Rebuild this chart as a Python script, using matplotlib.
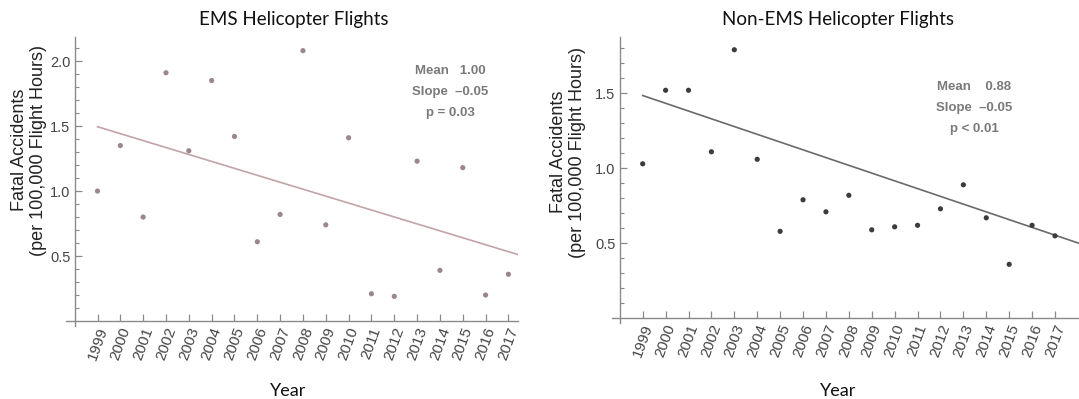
import matplotlib
matplotlib.use("Agg")
import matplotlib.pyplot as plt
import numpy as np

# ---------------- data ----------------
years = list(range(1999, 2018))
ems_rate = [1.00, 1.35, 0.80, 1.91, 1.31, 1.85, 1.42, 0.61, 0.82, 2.08,
            0.74, 1.41, 0.21, 0.19, 1.23, 0.39, 1.18, 0.20, 0.36]
non_ems_rate = [1.03, 1.52, 1.52, 1.11, 1.79, 1.06, 0.58, 0.79, 0.71, 0.82,
                0.59, 0.61, 0.62, 0.73, 0.89, 0.67, 0.36, 0.62, 0.55]
titles = ["EMS Helicopter Flights", "Non-EMS Helicopter Flights"]
trend_at_1999 = [1.495, 1.485]
trend_slope = [-0.0534, -0.0517]
stat_lines = [["Mean   1.00", "Slope  \u20130.05", "p = 0.03"],
              ["Mean    0.88", "Slope  \u20130.05", "p < 0.01"]]
ytick_vals = [[0.5, 1.0, 1.5, 2.0], [0.5, 1.0, 1.5]]
ylabel = "Fatal Accidents\n(per 100,000 Flight Hours)"
xlabel = "Year"

W, H = 1079, 399
fig = plt.figure(figsize=(W / 100, H / 100), dpi=100)

def frac_box(x0, y0, x1, y1):
    return [x0 / W, 1 - y1 / H, (x1 - x0) / W, (y1 - y0) / H]

panels = [
    dict(box=(66, 37, 518, 326), xlim=(1997.62, 2017.42), ylim=(-0.038, 2.185),
         pt="#9c868c", ln="#c2a4a6", data=ems_rate,
         title_xy=(294, 20), ylab_x=(29, 150), xlab_xy=(288, 391),
         stat_xy=(450, 71)),
    dict(box=(612, 37, 1085, 323), xlim=(1997.66, 2018.31), ylim=(-0.031, 1.875),
         pt="#3c3c3c", ln="#6a6a6a", data=non_ems_rate,
         title_xy=(838, 20), ylab_x=(568, 152), xlab_xy=(838, 391),
         stat_xy=(974, 87)),
]

axis_col = "#8a8a8a"
for i, p in enumerate(panels):
    ax = fig.add_axes(frac_box(*p["box"]))
    ax.set_xlim(*p["xlim"])
    ax.set_ylim(*p["ylim"])
    ax.scatter(years, p["data"], s=14, color=p["pt"], edgecolors="none", zorder=3)
    xs = np.array([1999, p["xlim"][1]])
    ax.plot(xs, trend_at_1999[i] + trend_slope[i] * (xs - 1999), color=p["ln"],
            lw=1.2, zorder=2)
    for s in ["top", "right"]:
        ax.spines[s].set_visible(False)
    ax.spines["left"].set_position(("data", 1998))
    ax.spines["bottom"].set_position(("data", 0))
    for s in ["left", "bottom"]:
        ax.spines[s].set_color(axis_col)
        ax.spines[s].set_linewidth(1.0)
    ax.set_xticks(years)
    ax.set_xticklabels([str(y) for y in years], rotation=70, ha="center",
                       fontsize=11, family="Liberation Sans", color="#444444")
    ax.set_yticks(ytick_vals[i])
    ax.set_yticklabels(["%.1f" % v for v in ytick_vals[i]], fontsize=10.5,
                       family="Liberation Sans", color="#444444")
    ax.set_yticks(np.arange(0.1, p["ylim"][1], 0.1), minor=True)
    ax.tick_params(axis="both", which="major", direction="in", length=5,
                   color=axis_col, width=0.9, pad=3)
    ax.tick_params(axis="y", which="minor", direction="in", length=3,
                   color=axis_col, width=0.8)
    ax.tick_params(axis="x", pad=3)
    ax.patch.set_alpha(0)

    fig.text(p["title_xy"][0] / W, 1 - p["title_xy"][1] / H, titles[i],
             ha="center", va="center", fontsize=13.5, family="Lato", color="#111111")
    fig.text(p["ylab_x"][0] / W, 1 - p["ylab_x"][1] / H, ylabel, rotation=90,
             ha="center", va="center", fontsize=13, family="Liberation Sans",
             color="#222222", multialignment="center", linespacing=1.1)
    fig.text(p["xlab_xy"][0] / W, 1 - p["xlab_xy"][1] / H, xlabel,
             ha="center", va="center", fontsize=13, family="Lato", color="#111111")
    for k, line in enumerate(stat_lines[i]):
        fig.text(p["stat_xy"][0] / W, 1 - (p["stat_xy"][1] + 21 * k) / H, line,
                 ha="center", va="center", fontsize=9.5, family="Liberation Sans",
                 fontweight="bold", color="#7a7a7a")

fig.savefig("out.png", dpi=100)
